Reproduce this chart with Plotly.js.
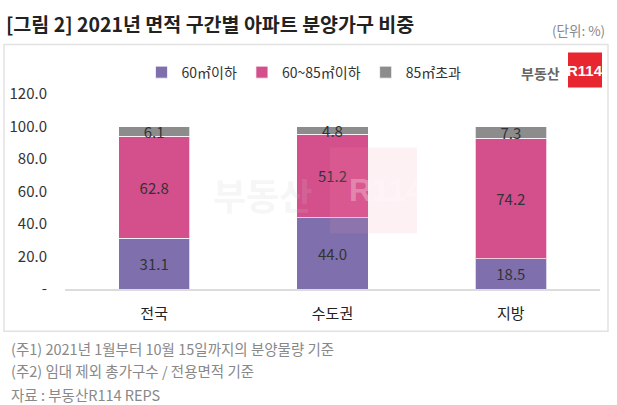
<!DOCTYPE html>
<html>
<head>
<meta charset="utf-8">
<script src="https://cdn.plot.ly/plotly-3.0.1.min.js"></script>
<style>
html,body{margin:0;padding:0;background:#fff;}
#chart{width:617px;height:405px;}
</style>
</head>
<body>
<div id="chart"></div>
<script>
const categories = ['전국', '수도권', '지방'];
const seriesNames = ['60㎡이하', '60~85㎡이하', '85㎡초과'];
const small = [31.1, 44.0, 18.5];
const mid = [62.8, 51.2, 74.2];
const large = [6.1, 4.8, 7.3];
const tickVals = [0, 20, 40, 60, 80, 100, 120];
const tickText = ['-', '20.0', '40.0', '60.0', '80.0', '100.0', '120.0'];
const colors = ['#7f70ad', '#d4508c', '#8c8c8c'];

const KR = '"Noto Sans CJK KR", "Noto Sans", sans-serif';
const series = [small, mid, large];
const traces = series.map((vals, i) => ({
  type: 'bar',
  name: seriesNames[i],
  x: categories,
  y: vals,
  marker: {color: colors[i], line: {color: 'rgba(255,255,255,0.7)', width: 1}},
  text: vals.map(v => v.toFixed(1)),
  textposition: 'inside',
  insidetextanchor: 'middle',
  textangle: 0,
  constraintext: 'none',
  textfont: {family: KR, size: 15, color: '#333'},
  hoverinfo: 'skip'
}));

const layout = {
  width: 617, height: 405,
  margin: {l: 65, r: 17, t: 93.5, b: 116.3},
  paper_bgcolor: '#fff', plot_bgcolor: 'rgba(0,0,0,0)',
  barmode: 'stack',
  bargap: 0.6,
  showlegend: true,
  uniformtext: {mode: 'show', minsize: 15},
  legend: {
    orientation: 'h', x: 0.143, xanchor: 'left', y: 1.11, yanchor: 'middle',
    font: {family: KR, size: 14, color: '#333'},
    itemwidth: 30, traceorder: 'normal', bgcolor: 'rgba(0,0,0,0)'
  },
  xaxis: {
    type: 'category',
    showline: true, linecolor: '#dcdcdc', linewidth: 2,
    showgrid: false, zeroline: false, ticks: '',
    tickfont: {family: KR, size: 15, color: '#222'},
    ticklabelstandoff: 10,
    fixedrange: true
  },
  yaxis: {
    range: [0, 120],
    tickvals: tickVals, ticktext: tickText,
    showgrid: false, zeroline: false, showline: false, ticks: '',
    tickfont: {family: KR, size: 15, color: '#333'},
    ticklabelstandoff: 17,
    fixedrange: true
  },
  shapes: [
    {type: 'rect', xref: 'paper', yref: 'paper', layer: 'below',
     x0: -61/535, x1: 543/535, y0: (288.7-331)/195.2, y1: (288.7-44)/195.2,
     line: {color: '#e2e2e2', width: 1.5}, fillcolor: 'rgba(0,0,0,0)'},
    {type: 'rect', xref: 'paper', yref: 'paper', layer: 'above',
     x0: (568-65)/535, x1: (602-65)/535, y0: (288.7-87)/195.2, y1: (288.7-52)/195.2,
     line: {width: 0}, fillcolor: '#e8262f'},
    {type: 'rect', xref: 'paper', yref: 'paper', layer: 'above',
     x0: (330-65)/535, x1: (417-65)/535, y0: (288.7-233)/195.2, y1: (288.7-147)/195.2,
     line: {width: 0}, fillcolor: 'rgba(245,150,170,0.13)'}
  ],
  annotations: [
    {xref: 'paper', yref: 'paper', x: -61/535, xanchor: 'left', y: (288.7-23)/195.2, yanchor: 'middle',
     text: '<b>[그림 2] 2021년 면적 구간별 아파트 분양가구 비중</b>', showarrow: false,
     font: {family: KR, size: 19.5, color: '#222'}},
    {xref: 'paper', yref: 'paper', x: (607-65)/535, xanchor: 'right', y: (288.7-29)/195.2, yanchor: 'middle',
     text: '(단위: %)', showarrow: false, font: {family: KR, size: 13.5, color: '#888'}},
    {xref: 'paper', yref: 'paper', x: (562-65)/535, xanchor: 'right', y: (288.7-72)/195.2, yanchor: 'middle',
     text: '<b>부동산</b>', showarrow: false, font: {family: KR, size: 14, color: '#666'}},
    {xref: 'paper', yref: 'paper', x: (585-65)/535, xanchor: 'center', y: (288.7-70)/195.2, yanchor: 'middle',
     text: '<b>R114</b>', showarrow: false, font: {family: '"Liberation Sans Narrow", "Liberation Sans", sans-serif', size: 15, color: '#fff'}},
    {xref: 'paper', yref: 'paper', x: (262-65)/535, xanchor: 'center', y: (288.7-194)/195.2, yanchor: 'middle',
     text: '<b>부동산</b>', showarrow: false, font: {family: KR, size: 36, color: 'rgba(200,200,200,0.18)'}},
    {xref: 'paper', yref: 'paper', x: (386-65)/535, xanchor: 'center', y: (288.7-190)/195.2, yanchor: 'middle',
     text: '<b>R114</b>', showarrow: false, font: {family: '"Liberation Sans Narrow", "Liberation Sans", sans-serif', size: 32, color: 'rgba(255,255,255,0.3)'}},
    {xref: 'paper', yref: 'paper', x: -56/535, xanchor: 'left', y: (288.7-348)/195.2, yanchor: 'middle',
     text: '(주1) 2021년 1월부터 10월 15일까지의 분양물량 기준', showarrow: false,
     font: {family: KR, size: 14.5, color: '#888'}},
    {xref: 'paper', yref: 'paper', x: -56/535, xanchor: 'left', y: (288.7-370)/195.2, yanchor: 'middle',
     text: '(주2) 임대 제외 총가구수 / 전용면적 기준', showarrow: false,
     font: {family: KR, size: 14.5, color: '#888'}},
    {xref: 'paper', yref: 'paper', x: -56/535, xanchor: 'left', y: (288.7-394)/195.2, yanchor: 'middle',
     text: '자료 : 부동산R114 REPS', showarrow: false,
     font: {family: KR, size: 14.5, color: '#888'}}
  ]
};

Plotly.newPlot('chart', traces, layout, {displayModeBar: false, staticPlot: true});
</script>
</body>
</html>
